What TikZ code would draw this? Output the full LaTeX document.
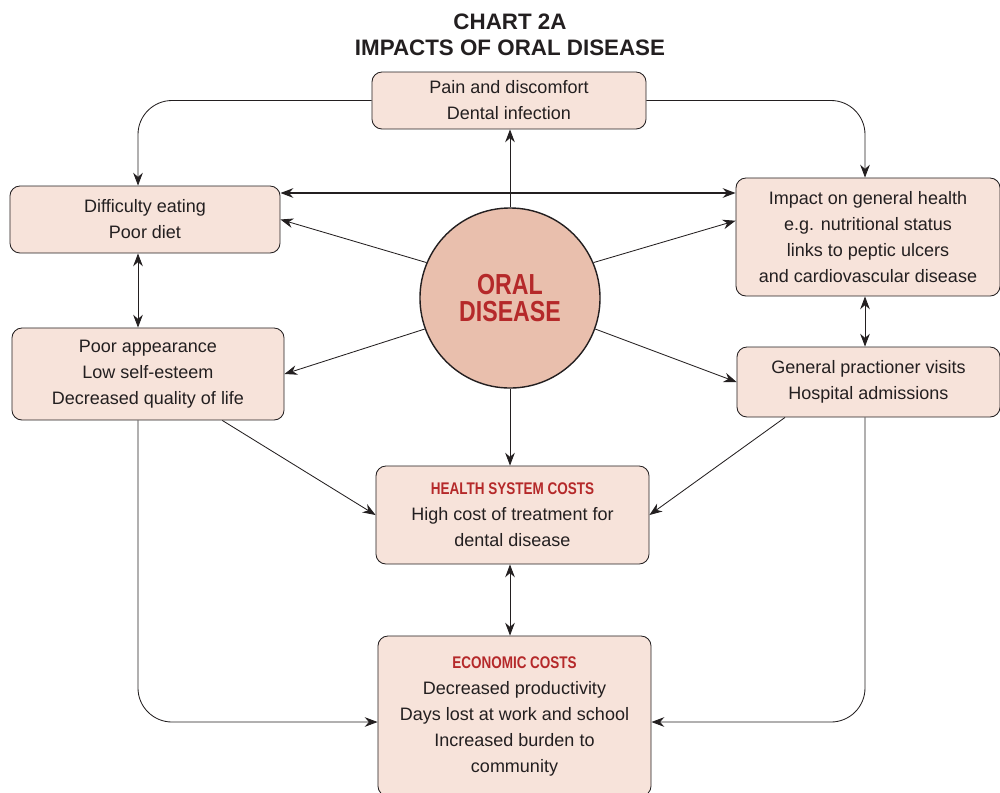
\documentclass[tikz,border=0pt]{standalone}
\usepackage{fontspec}
\setmainfont{Liberation Sans}
\newfontfamily\condfont[FakeStretch=0.8]{Liberation Sans}
\usepackage{xcolor}
\usetikzlibrary{positioning,arrows.meta}

\definecolor{boxfill}{HTML}{F7E3DA}
\definecolor{discfill}{HTML}{E9BFAD}
\definecolor{headred}{HTML}{B5292A}
\definecolor{inkgray}{HTML}{231F20}

\newcommand{\boxhead}[1]{{\condfont\bfseries\fontsize{12}{18.5}\selectfont\color{headred}#1}}

\begin{document}
\begin{tikzpicture}[x=0.025cm,y=-0.025cm,
  box/.style={draw=inkgray, line width=0.6pt, fill=boxfill, rounded corners=0.25cm,
    align=center, text=inkgray, inner sep=0pt, font=\fontsize{12.8}{18.5}\selectfont},
  link/.style={draw=inkgray, line width=0.6pt, -{Stealth[length=3.2mm,width=2.4mm]}},
  both/.style={link, {Stealth[length=3.2mm,width=2.4mm]}-{Stealth[length=3.2mm,width=2.4mm]}}]
\useasboundingbox (0,0) rectangle (1000,792);

% title
\node[align=center, text=inkgray, font=\bfseries\fontsize{15.9}{18.5}\selectfont] (title) at (510,35)
  {CHART 2A\\IMPACTS OF ORAL DISEASE};

% centre
\node[circle, draw=inkgray, line width=1pt, fill=discfill, minimum size=4.5cm, inner sep=0pt,
  align=center, text=headred, font=\condfont\bfseries\fontsize{20.6}{18.9}\selectfont] (oral) at (510,298)
  {ORAL\\DISEASE};

% boxes
\node[box, minimum width=6.85cm, minimum height=1.425cm] (pain) at (509,100.5)
  {Pain and discomfort\\Dental infection};
\node[box, minimum width=6.75cm, minimum height=1.675cm] (diet) at (145,219.5)
  {Difficulty eating\\Poor diet};
\node[box, minimum width=6.6cm, minimum height=2.95cm] (health) at (868,237)
  {Impact on general health\\e.g. nutritional status\\links to peptic ulcers\\and cardiovascular disease};
\node[box, minimum width=6.8cm, minimum height=2.3cm] (looks) at (148,374)
  {Poor appearance\\Low self-esteem\\Decreased quality of life};
\node[box, minimum width=6.575cm, minimum height=1.75cm] (visits) at (868.5,382)
  {General practioner visits\\Hospital admissions};
\node[box, minimum width=6.825cm, minimum height=2.45cm] (syscost) at (512.5,515)
  {\boxhead{HEALTH SYSTEM COSTS}\\High cost of treatment for\\dental disease};
\node[box, minimum width=6.825cm, minimum height=4cm] (ecocost) at (514.5,716)
  {\boxhead{ECONOMIC COSTS}\\Decreased productivity\\Days lost at work and school\\Increased burden to\\community};

% guide coordinates
\coordinate (lcol) at (138,0);
\coordinate (mcol) at (510,0);
\coordinate (rcol) at (865,0);
\coordinate (toprow) at (0,193);
\coordinate (lowrow) at (0,722);

% from the disc
\draw[link] (oral.north) -- (pain.south -| mcol);
\draw[link] (oral.157) -- (diet.east);
\draw[link] (oral.23) -- (health.173);
\draw[link] (oral.200) -- (looks.east);
\draw[link] (oral.340) -- (visits.west);
\draw[link] (oral.south) -- (syscost.north -| mcol);

% between boxes
\draw[both, line width=1.1pt] (diet.east |- toprow) -- (health.west |- toprow);
\draw[both] (diet.south -| lcol) -- (looks.north -| lcol);
\draw[both] (health.south -| rcol) -- (visits.north -| rcol);
\draw[both] (syscost.south -| mcol) -- (ecocost.north -| mcol);
\draw[link] (looks.328) -- (syscost.west);
\draw[link] (visits.203) -- (syscost.east);

% outer loops
\draw[link, rounded corners=0.85cm] (pain.west) -| (diet.north -| lcol);
\draw[link, rounded corners=0.85cm] (pain.east) -| (health.north -| rcol);
\draw[link, rounded corners=0.85cm] (looks.south -| lcol) |- (ecocost.west |- lowrow);
\draw[link, rounded corners=0.85cm] (visits.south -| rcol) |- (ecocost.east |- lowrow);
\end{tikzpicture}
\end{document}
